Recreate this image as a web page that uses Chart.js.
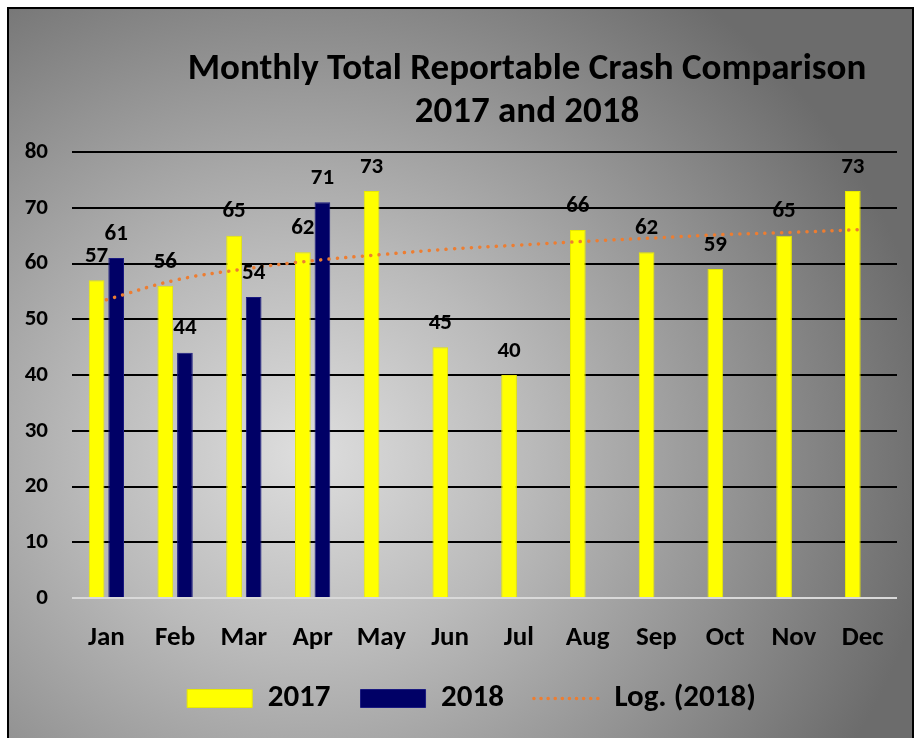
<!DOCTYPE html>
<html>
<head>
<meta charset="utf-8">
<script src="https://cdn.jsdelivr.net/npm/chart.js@4.4.1/dist/chart.umd.min.js"></script>
<style>
  html, body { margin: 0; padding: 0; background: #fff; overflow: hidden; }
  #wrap {
    position: absolute; left: 7px; top: 7px;
    width: 903px; height: 740px;
    border: 2px solid #000;
    background: radial-gradient(ellipse 70% 78% at 33% 60%, #dedede 0%, #bababa 35%, #939393 68%, #6c6c6c 100%);
  }
  #chart { display: block; }
</style>
</head>
<body>
<div id="wrap"><canvas id="chart" width="903" height="729"></canvas></div>
<script>
const months = ["Jan", "Feb", "Mar", "Apr", "May", "Jun", "Jul", "Aug", "Sep", "Oct", "Nov", "Dec"];
const crashes2017 = [57, 56, 65, 62, 73, 45, 40, 66, 62, 59, 65, 73];
const crashes2018 = [61, 44, 54, 71, null, null, null, null, null, null, null, null];
// log trendline of 2018
const logTrend2018 = [53.5, 57.0, 59.0, 60.5, 61.6, 62.6, 63.3, 64.0, 64.6, 65.2, 65.6, 66.1];
const yTicks = [0, 10, 20, 30, 40, 50, 60, 70, 80];
const titleLines = ["Monthly Total Reportable Crash Comparison", "2017 and 2018"];

const FONT = "Carlito, Lato, sans-serif";

// title, drawn a bit right of centre like the original
const titlePlugin = {
  id: "titleLines",
  afterDraw(chart) {
    const ctx = chart.ctx;
    ctx.save();
    ctx.font = "bold 37px " + FONT;
    ctx.fillStyle = "#000";
    ctx.textAlign = "center";
    ctx.textBaseline = "middle";
    ctx.fillText(titleLines[0], 518, 61);
    ctx.fillText(titleLines[1], 518, 104);
    ctx.restore();
  }
};

// value labels above each bar
const valueLabels = {
  id: "valueLabels",
  afterDatasetsDraw(chart) {
    const ctx = chart.ctx;
    ctx.save();
    ctx.font = "bold 23px " + FONT;
    ctx.fillStyle = "#000";
    ctx.textAlign = "center";
    ctx.textBaseline = "middle";
    [0, 1].forEach(i => {
      const meta = chart.getDatasetMeta(i);
      meta.data.forEach((bar, j) => {
        const v = chart.data.datasets[i].data[j];
        if (v == null) return;
        ctx.fillText(v, bar.x, bar.y - 24);
      });
    });
    ctx.restore();
  }
};

// let tick labels spill outside their (shrunk) axis boxes
const noClip = axis => { axis._computeLabelArea = () => undefined; };

new Chart(document.getElementById("chart"), {
  data: {
    labels: months,
    datasets: [
      {
        type: "bar",
        label: "2017",
        data: crashes2017,
        backgroundColor: "#ffff00",
        borderColor: "#e8e800",
        borderWidth: 1,
        pointStyle: "rect",
        order: 2
      },
      {
        type: "bar",
        label: "2018",
        data: crashes2018,
        backgroundColor: "#000066",
        borderColor: "#1a1a80",
        borderWidth: 1,
        pointStyle: "rect",
        order: 2
      },
      {
        type: "line",
        label: "Log. (2018)",
        data: logTrend2018,
        borderColor: "#ed7d31",
        backgroundColor: "#ed7d31",
        borderWidth: 3.5,
        borderDash: [0.1, 8.3],
        borderCapStyle: "round",
        pointRadius: 0,
        pointStyle: "line",
        fill: false,
        tension: 0.4,
        order: 1
      }
    ]
  },
  options: {
    responsive: false,
    animation: false,
    datasets: {
      bar: { categoryPercentage: 0.57, barPercentage: 0.8 }
    },
    layout: { padding: { top: 143, left: 37, right: 15, bottom: 14 } },
    plugins: {
      title: { display: false },
      tooltip: { enabled: false },
      legend: {
        position: "bottom",
        labels: {
          usePointStyle: true,
          pointStyleWidth: 65,
          boxHeight: 18,
          padding: 30,
          color: "#000",
          sort: (a, b) => a.datasetIndex - b.datasetIndex,
          font: { family: FONT, size: 31, weight: "bold" },
          generateLabels: chart => {
            const items = Chart.defaults.plugins.legend.labels.generateLabels(chart);
            items.forEach(it => {
              if (it.datasetIndex === 2) {
                it.lineDash = [0.1, 7];
                it.lineCap = "round";
                it.lineWidth = 3.5;
                it.strokeStyle = "#ed7d31";
              }
            });
            return items;
          }
        }
      }
    },
    scales: {
      x: {
        grid: { display: false },
        border: { display: false },
        afterFit: axis => { axis.height = 55; noClip(axis); },
        ticks: { color: "#000", padding: 16, font: { family: FONT, size: 27, weight: "bold" } }
      },
      y: {
        min: 0,
        max: 80,
        afterBuildTicks: axis => { axis.ticks = yTicks.map(v => ({ value: v })); },
        afterFit: axis => { axis.width = 26; noClip(axis); },
        border: { display: false },
        grid: {
          drawTicks: false,
          lineWidth: 2,
          color: c => (c.tick && c.tick.value === 0 ? "#d9d9d9" : "#000")
        },
        ticks: { color: "#000", padding: 24, font: { family: FONT, size: 23, weight: "bold" } }
      }
    }
  },
  plugins: [titlePlugin, valueLabels]
});
</script>
</body>
</html>
